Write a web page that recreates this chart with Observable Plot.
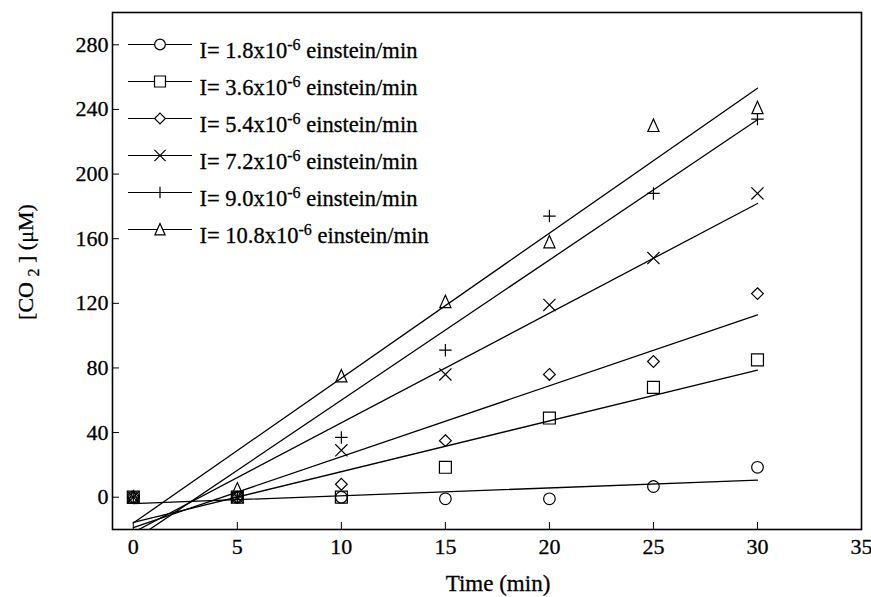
<!DOCTYPE html>
<html>
<head>
<meta charset="utf-8">
<script src="https://cdn.jsdelivr.net/npm/d3@7"></script>
<script src="https://cdn.jsdelivr.net/npm/@observablehq/plot@0.6"></script>
<style>
  html, body { margin: 0; padding: 0; background: #ffffff; }
  #chart svg { display: block; }
  #chart svg text { stroke: #000; stroke-width: 0.3px; }
</style>
</head>
<body>
<div id="chart"></div>
<script>
// ---------- data ----------
const times = [0, 5, 10, 15, 20, 25, 30];
const intensities = ["1.8", "3.6", "5.4", "7.2", "9.0", "10.8"];
const co2_1_8  = [0, 0, 0, -1, -1, 6.6, 18.5];
const co2_3_6  = [0, 0, 0, 18.5, 49, 68, 85];
const co2_5_4  = [0, 0, 8, 35, 76, 84, 126];
const co2_7_2  = [0, 0, 29, 76, 119, 148, 188];
const co2_9_0  = [0, 0, 37, 91, 174, 188, 234];
const co2_10_8 = [0, 5, 75, 121, 158, 230, 241];
const xTicks = [0, 5, 10, 15, 20, 25, 30, 35];
const yTicks = [0, 40, 80, 120, 160, 200, 240, 280];
const xTitle = "Time (min)";
const yTitle = "[CO2 ] (μM)";
const legendLabels = intensities.map(v => `I= ${v}x10-6 einstein/min`);

const seriesValues = [co2_1_8, co2_3_6, co2_5_4, co2_7_2, co2_9_0, co2_10_8];
const rows = [];
seriesValues.forEach((vals, s) => vals.forEach((v, i) => rows.push({series: intensities[s], t: times[i], v})));

// ---------- styling ----------
const FONT = "'Liberation Serif', 'Times New Roman', Times, serif";
const narrowTriangle = {
  draw(ctx, size) {
    const r = Math.sqrt(size / Math.PI);
    ctx.moveTo(0, -1.05 * r);
    ctx.lineTo(0.9 * r, 0.95 * r);
    ctx.lineTo(-0.9 * r, 0.95 * r);
    ctx.closePath();
  }
};
const legendLine = {
  draw(ctx) { ctx.moveTo(-32, 0); ctx.lineTo(32, 0); }
};
const symbols = [d3.symbolCircle, d3.symbolSquare2, d3.symbolDiamond2, d3.symbolTimes, d3.symbolPlus, narrowTriangle];
const radii = [5.8, 7.6, 5.3, 5.6, 4.1, 6.2];

const dataDots = intensities.map((name, s) =>
  Plot.dot(rows.filter(d => d.series === name), {
    x: "t", y: "v", symbol: () => symbols[s], r: radii[s],
    fill: "none", stroke: "black", strokeWidth: 1.2
  })
);

const legendMarks = [];
intensities.forEach((name, s) => {
  const dyRow = 32 + 37 * s;
  legendMarks.push(Plot.dot([name], {frameAnchor: "top-left", dx: 47.5, dy: dyRow, symbol: () => legendLine, r: 5, stroke: "black", strokeWidth: 1, fill: "none"}));
  legendMarks.push(Plot.dot([name], {frameAnchor: "top-left", dx: 47.5, dy: dyRow, symbol: () => symbols[s], r: radii[s] * 0.92, stroke: "black", strokeWidth: 1.2, fill: "white"}));
  legendMarks.push(Plot.text([legendLabels[s]], {frameAnchor: "top-left", dx: 87, dy: dyRow + 13, text: d => d, textAnchor: "start", lineAnchor: "bottom", fontSize: 22.5, fill: "black"}));
});

const chart = Plot.plot({
  width: 871,
  height: 597,
  marginLeft: 112,
  marginRight: 10,
  marginTop: 12,
  marginBottom: 68,
  x: {domain: [-1, 35]},
  y: {domain: [-20, 300]},
  symbol: {type: "identity"},
  style: {fontFamily: FONT, fontSize: "22px", color: "black", background: "white"},
  marks: [
    Plot.linearRegressionY(rows, {x: "t", y: "v", z: "series", ci: 0, stroke: "black", strokeWidth: 1.3, clip: true}),
    ...dataDots,
    Plot.frame({stroke: "black", strokeWidth: 1.6}),
    Plot.axisX({ticks: xTicks, tickSize: -7, tickPadding: 16, fontSize: 22, label: null, tickFormat: d => String(d)}),
    Plot.axisY({ticks: yTicks, tickSize: -7, tickPadding: 11, fontSize: 22, label: null, tickFormat: d => String(d)}),
    ...legendMarks,
    Plot.text([xTitle], {frameAnchor: "bottom", dy: 59, lineAnchor: "bottom", text: d => d, fontSize: 23, fill: "black"}),
    Plot.text([yTitle], {frameAnchor: "left", dx: -85, rotate: -90, text: d => d, fontSize: 22, fill: "black"})
  ]
});

// superscripts / subscripts as real text
const NS = "http://www.w3.org/2000/svg";
function tspan(txt, attrs = {}) {
  const el = document.createElementNS(NS, "tspan");
  for (const k in attrs) el.setAttribute(k, attrs[k]);
  el.textContent = txt;
  return el;
}
let xTitleEl = null, yTitleEl = null;
chart.querySelectorAll("text").forEach(t => {
  const s = t.textContent;
  if (s === xTitle) { xTitleEl = t; return; }
  let m = s.match(/^(I= [\d.]+x10)(-6)( einstein\/min)$/);
  if (m) {
    t.textContent = "";
    t.appendChild(tspan(m[1]));
    t.appendChild(tspan(m[2], {"font-size": "16", dy: "-8"}));
    t.appendChild(tspan(m[3], {dy: "8"}));
    return;
  }
  m = s.match(/^\[CO(2)( \] \(μM\))$/);
  if (m) {
    yTitleEl = t;
    t.textContent = "";
    t.appendChild(tspan("[CO "));
    t.appendChild(tspan(m[1], {"font-size": "16", dy: "6"}));
    t.appendChild(tspan(m[2], {dy: "-6"}));
  }
});

document.getElementById("chart").appendChild(chart);

// place the axis titles where the reference has them (centre of their boxes)
function placeCenter(el, cx, cy) {
  if (!el) return;
  const r = el.getBoundingClientRect();
  const s = chart.getBoundingClientRect();
  const curX = r.left + r.width / 2 - s.left;
  const curY = r.top + r.height / 2 - s.top;
  const tr = el.getAttribute("transform") || "";
  el.setAttribute("transform", `translate(${(cx - curX).toFixed(1)},${(cy - curY).toFixed(1)}) ${tr}`);
}
placeCenter(xTitleEl, 498, 583);
placeCenter(yTitleEl, 27, 262);
</script>
</body>
</html>
